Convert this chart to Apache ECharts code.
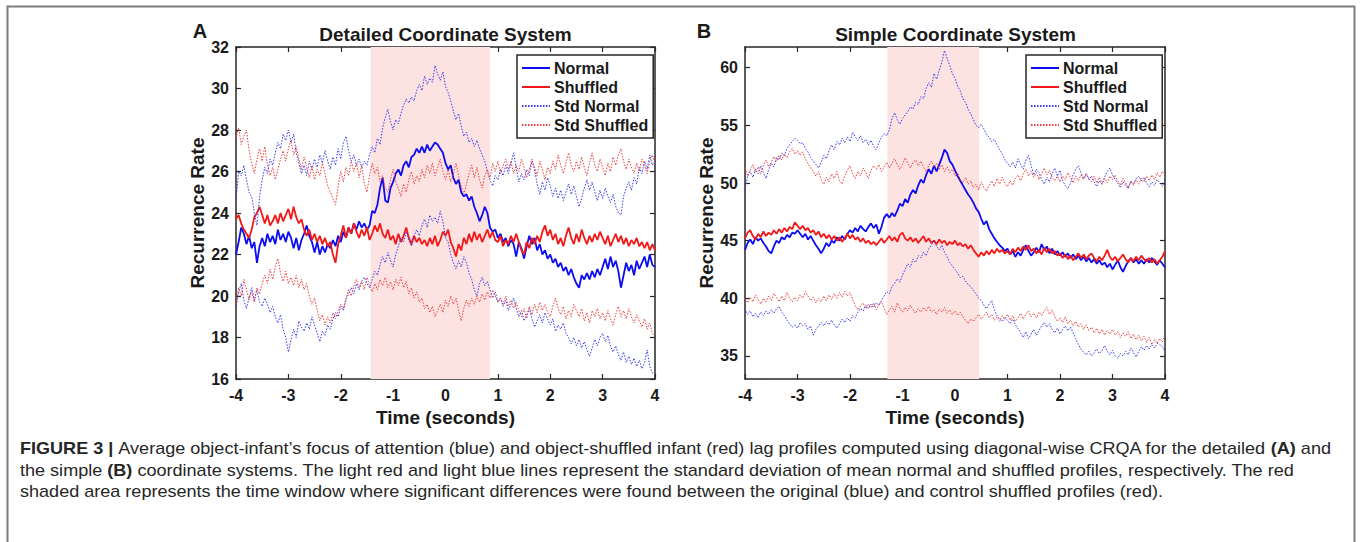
<!DOCTYPE html>
<html><head><meta charset="utf-8">
<script src="https://cdn.jsdelivr.net/npm/echarts@6/dist/echarts.min.js"></script>
<style>html,body{margin:0;padding:0;background:#fff}#c{width:1360px;height:542px}</style>
</head><body><div id="c"></div>
<script>
// ---- data ----
const timeStart = -4, timeStep = 0.05;   // sample grid (seconds)
const xTicks = [-4,-3,-2,-1,0,1,2,3,4];
const yTicksA = [16,18,20,22,24,26,28,30,32];
const yTicksB = [35,40,45,50,55,60];
const shadeA = [-1.43, 0.85];
const shadeB = [-1.29, 0.46];
const legendNames = ['Normal','Shuffled','Std Normal','Std Shuffled'];

const normalA = [22.0,22.6,23.3,23.0,22.5,22.9,22.3,22.6,21.6,22.4,
22.8,22.4,23.0,22.6,22.9,22.5,23.2,22.7,23.0,22.6,
23.1,22.8,22.3,22.8,22.2,22.7,23.0,23.4,22.9,22.6,
22.1,22.6,22.0,22.4,22.1,22.5,22.3,22.7,22.4,22.9,
22.6,23.1,22.8,23.3,23.0,23.5,23.2,23.6,23.3,23.5,
23.2,23.4,24.1,24.0,24.4,25.2,25.7,24.6,24.5,25.2,
25.5,25.9,26.1,25.8,26.3,26.5,26.2,26.7,26.8,27.1,
26.9,27.2,26.9,27.3,27.0,27.2,27.4,27.3,27.1,26.9,
26.4,26.1,26.3,25.7,25.4,25.6,25.0,24.8,24.9,24.6,
24.8,24.3,24.0,23.6,23.9,24.3,24.0,23.3,23.1,23.2,
22.8,23.0,22.6,22.8,22.4,22.7,22.5,21.9,22.6,22.3,
21.8,22.4,22.9,22.5,22.8,22.2,22.5,22.0,22.2,21.8,
22.0,21.6,21.8,21.4,21.6,21.2,21.4,21.0,21.3,20.9,
20.6,20.4,21.0,20.8,21.1,20.8,21.2,20.9,21.3,21.0,
21.4,21.8,21.3,21.9,21.4,21.7,21.2,20.4,21.0,21.6,
21.2,21.5,21.0,21.7,21.3,21.6,21.9,21.4,22.0,21.5,
21.4];
const shuffledA = [23.7,23.9,23.5,23.2,23.0,22.8,23.2,23.8,24.0,24.3,
23.9,23.5,23.9,23.4,23.6,23.9,23.5,24.0,23.6,23.9,
24.2,23.7,24.3,23.8,23.5,23.7,23.2,22.9,23.2,22.7,
23.0,22.6,22.9,22.5,22.8,22.4,22.6,22.0,21.6,22.5,
22.9,23.4,22.8,23.3,23.0,23.5,23.1,22.8,23.2,22.9,
23.3,22.7,23.0,23.4,23.1,23.5,23.0,22.8,23.2,22.7,
22.9,22.5,23.0,22.6,22.9,23.3,22.8,22.5,22.9,22.6,
22.8,22.5,22.7,22.4,22.8,22.5,22.9,22.4,22.7,23.1,
22.9,23.2,22.6,22.3,21.9,22.5,22.2,22.8,22.5,23.0,
22.6,23.1,22.7,23.0,22.6,22.9,23.2,22.8,23.1,22.7,
22.6,22.9,22.4,22.7,22.5,22.9,22.6,23.0,22.6,22.2,
22.0,22.6,22.3,22.8,22.5,22.9,22.6,23.1,23.4,22.9,
23.2,22.7,23.0,22.5,22.8,22.4,22.9,23.3,22.8,22.5,
23.0,22.6,23.2,22.8,22.5,22.9,22.6,23.0,22.7,23.1,
22.8,22.5,22.9,22.4,22.7,23.0,22.6,22.9,22.5,22.8,
22.4,22.7,22.5,22.8,22.4,22.6,22.3,22.6,22.2,22.5,
22.2];
const stdNormalUpA = [24.6,26.0,25.8,26.3,25.6,25.0,24.8,24.0,23.4,24.8,
25.6,26.2,25.9,26.6,26.3,26.9,27.4,27.1,27.8,27.5,
28.0,27.4,27.8,26.9,26.4,25.9,26.3,25.8,26.5,26.1,
26.6,26.2,26.8,26.4,27.0,26.5,26.1,26.7,26.3,27.1,
26.6,27.4,27.7,27.0,26.5,26.8,26.3,26.6,26.2,26.5,
26.3,26.8,27.2,26.9,27.6,27.3,28.1,28.6,29.0,28.4,
28.0,28.5,28.3,28.8,29.2,29.5,29.3,29.6,29.4,29.9,
30.2,29.9,30.6,30.2,30.5,30.3,31.1,30.7,30.4,30.8,
30.1,29.8,29.4,28.9,28.5,28.8,28.2,27.7,27.9,27.4,
27.6,27.2,27.5,27.1,26.8,26.5,26.0,25.6,25.3,25.8,
25.6,26.1,25.8,26.3,25.9,26.4,26.9,26.2,25.5,25.9,
25.6,26.1,25.8,26.5,26.1,25.4,24.9,25.5,25.1,25.7,
25.3,24.8,25.2,24.7,25.1,24.6,25.0,25.4,24.9,25.3,
24.8,24.3,24.7,25.2,25.6,25.1,25.5,25.0,24.6,25.1,
24.7,25.2,24.8,24.5,24.9,24.3,24.0,23.9,24.8,25.2,
25.5,25.1,25.7,25.4,26.2,25.9,26.5,26.1,26.8,26.3,
26.5];
const stdNormalLoA = [19.4,20.2,20.6,19.8,19.4,19.9,20.4,19.8,20.3,19.7,
19.5,19.9,19.6,19.2,19.5,19.0,18.7,19.1,18.4,18.0,
17.3,17.9,18.4,18.0,18.8,18.5,18.3,18.7,18.4,19.0,
18.6,18.2,17.8,18.3,18.1,18.6,18.4,18.9,19.2,19.0,
19.5,19.3,19.8,20.1,20.4,20.1,20.6,20.3,20.7,20.9,
20.6,20.4,20.8,21.2,21.0,21.5,21.9,21.6,22.1,21.7,
21.4,22.0,22.4,22.8,22.6,23.1,22.7,22.4,22.9,23.2,
22.9,23.4,23.7,23.3,23.9,23.6,23.8,23.5,24.1,23.6,
22.8,22.6,22.0,21.6,21.3,21.7,21.4,21.9,21.6,21.1,
20.8,20.3,20.0,20.6,20.9,20.5,20.7,20.3,19.9,20.2,
19.7,19.9,19.5,19.8,19.3,19.6,19.9,19.4,19.0,19.3,
18.8,19.1,19.4,18.9,18.5,18.8,19.1,18.7,19.2,18.9,
18.6,18.9,18.3,18.6,18.4,18.7,18.2,18.0,17.7,18.0,
17.6,17.9,17.5,17.8,17.4,17.1,17.5,17.9,17.6,18.0,
18.2,17.8,18.1,17.6,17.3,17.6,17.2,16.9,17.3,16.8,
17.1,16.7,17.0,16.6,16.9,16.5,16.8,17.4,16.6,16.3,
16.2];
const stdShuffledUpA = [27.6,28.1,27.3,27.7,28.0,27.0,26.4,25.9,26.6,27.1,
26.5,27.2,26.3,25.8,26.2,25.6,26.1,26.6,27.0,26.5,
27.1,27.5,26.8,27.2,26.6,26.1,26.7,26.2,25.7,26.3,
25.6,26.1,25.8,26.4,25.9,25.3,25.0,24.7,24.4,25.3,
26.0,25.5,26.2,25.8,26.5,26.0,26.4,25.7,26.3,25.4,
25.0,25.8,26.4,25.9,26.2,25.5,25.8,25.2,25.0,25.6,
26.1,25.5,25.2,24.8,25.4,25.0,25.6,26.0,25.4,25.8,
25.5,26.1,25.7,26.3,25.9,26.4,25.8,26.2,26.6,26.0,
25.6,26.1,25.5,25.9,26.4,25.8,25.3,24.9,25.4,25.9,
26.3,25.7,26.2,25.6,25.2,25.8,26.1,25.7,26.4,26.0,
26.5,25.9,26.3,26.6,26.1,26.5,25.9,26.3,26.0,26.6,
26.2,25.7,26.1,26.6,26.2,25.8,26.5,26.1,25.6,26.2,
25.9,26.5,26.1,26.8,26.3,25.9,26.4,26.9,26.3,26.0,
26.5,26.1,26.7,26.2,25.8,26.4,26.9,26.3,26.0,26.6,
26.2,25.8,26.4,26.0,26.7,26.3,26.8,27.1,26.5,26.1,
26.6,26.2,25.9,26.4,26.0,26.6,26.3,25.9,26.5,26.8,
26.4];
const stdShuffledLoA = [19.6,20.4,20.0,20.8,20.3,19.8,20.2,19.7,20.4,20.1,
20.6,21.0,20.6,21.3,20.8,21.4,21.8,21.1,20.7,21.2,
20.6,20.9,20.5,21.0,20.4,20.8,20.3,20.6,20.0,19.6,
19.9,19.3,18.8,19.1,18.6,19.0,18.7,19.2,18.9,19.3,
19.6,19.4,19.9,20.3,20.0,20.5,20.8,20.4,20.7,20.3,
20.9,20.5,20.2,20.6,20.3,20.8,20.5,20.9,20.4,20.7,
20.3,20.8,20.5,20.9,20.4,20.7,20.1,20.4,19.9,20.2,
19.7,19.9,19.4,19.6,19.2,19.5,19.0,19.3,19.6,19.2,
19.8,19.5,20.0,19.6,19.9,19.3,18.8,19.4,19.8,19.5,
19.9,19.6,20.0,19.7,20.1,19.8,20.2,19.9,20.3,20.0,
19.7,19.9,19.6,20.0,19.5,19.8,19.4,19.7,19.3,19.0,
19.4,18.9,19.5,19.1,19.6,19.2,19.7,19.3,19.6,19.2,
19.0,19.5,19.9,19.4,19.1,19.5,18.9,19.3,19.0,19.6,
19.3,19.0,19.4,18.8,19.2,18.7,19.3,19.0,19.4,18.9,
19.2,18.8,19.3,18.9,18.6,19.1,19.5,19.0,19.3,18.9,
19.4,19.0,18.7,19.1,18.8,18.5,18.9,18.4,18.7,18.2,
18.1];

const normalB = [44.2,44.8,45.1,44.7,45.3,45.0,45.2,44.8,44.5,44.1,
43.9,44.5,45.0,44.8,45.3,45.1,45.5,45.3,45.7,45.6,
45.9,45.6,45.3,45.6,45.1,45.4,45.0,44.6,44.3,43.9,
44.3,44.8,44.5,45.0,44.8,45.3,45.0,45.4,45.1,45.6,
45.9,45.7,46.1,45.8,46.3,46.0,45.8,46.2,46.5,46.1,
46.4,45.6,46.2,47.0,47.3,47.0,47.4,47.1,47.6,48.2,
48.0,48.6,48.3,49.0,49.4,49.1,49.8,50.3,50.0,50.7,
51.2,50.8,51.5,51.0,51.6,52.2,52.9,52.6,51.9,51.6,
51.1,50.6,50.2,49.8,49.4,49.0,48.7,48.3,47.8,47.5,
46.9,46.4,46.7,46.0,45.6,45.2,44.9,44.6,44.4,44.1,
44.3,43.8,44.1,43.6,44.0,43.7,44.2,44.6,44.1,43.7,
44.0,44.4,44.0,44.7,44.2,44.5,43.9,44.3,43.8,44.1,
43.7,44.0,43.6,43.9,43.5,43.8,43.4,43.7,43.3,43.6,
43.2,43.5,43.1,43.4,43.0,43.3,42.9,43.1,42.7,43.0,
42.5,42.9,43.3,42.7,42.3,42.8,43.2,43.5,43.1,43.4,
43.0,43.3,43.0,43.4,43.1,43.5,43.2,42.9,43.3,43.0,
42.7];
const shuffledB = [45.2,45.7,45.9,45.4,45.1,45.6,45.3,45.8,45.4,45.7,
45.5,45.9,45.6,46.0,45.7,46.1,45.8,46.2,46.0,46.6,
46.3,46.0,46.3,45.9,46.1,45.7,45.9,45.5,45.8,45.3,
45.6,45.2,45.5,45.1,45.4,45.0,45.3,44.9,45.2,45.6,
45.2,45.5,45.1,45.3,44.9,45.2,44.8,45.0,44.7,44.9,
44.6,44.9,45.2,44.8,45.1,45.4,45.0,45.3,44.9,45.5,
45.7,45.2,45.0,45.3,44.9,45.2,44.8,45.1,45.4,44.9,
45.2,44.8,45.0,44.7,45.1,44.8,45.0,44.6,44.9,44.7,
45.0,44.6,44.8,44.5,44.7,44.3,44.6,44.2,43.9,43.6,
44.0,43.7,44.1,43.8,44.2,43.9,44.3,44.0,44.2,43.9,
44.1,43.8,44.3,44.0,44.4,44.1,44.5,44.2,44.6,44.1,
44.3,43.9,44.2,43.8,44.4,44.0,44.3,43.9,44.1,43.7,
43.9,43.5,43.8,43.4,43.7,43.3,43.6,43.9,43.5,43.8,
43.4,43.7,43.9,43.5,43.2,43.6,43.3,43.7,44.2,43.6,
43.3,43.6,43.2,43.5,43.8,43.4,43.1,43.5,43.2,43.6,
43.3,43.7,43.4,43.2,43.5,43.1,43.4,43.0,43.3,43.6,
44.1];
const stdNormalUpB = [49.4,50.6,51.0,50.5,51.2,50.8,51.5,50.9,50.4,51.1,
51.7,51.4,52.2,52.0,52.6,52.4,53.0,53.3,53.6,53.9,
53.7,53.4,53.5,53.0,52.7,52.2,51.9,51.6,51.3,51.8,
52.4,52.1,52.8,53.3,52.9,53.6,53.3,53.9,53.5,54.0,
53.6,54.4,54.0,53.7,54.1,53.5,53.8,53.3,53.7,53.2,
52.9,53.5,54.0,54.3,54.1,54.6,55.6,56.1,55.5,55.1,
55.6,55.9,56.2,56.6,56.4,57.0,56.8,57.5,57.3,58.2,
58.7,58.3,59.5,59.0,59.8,60.5,61.5,60.8,60.2,59.5,
59.1,58.4,58.0,57.3,57.0,56.4,56.0,55.5,55.0,54.8,
55.1,54.7,54.2,54.0,53.6,53.8,53.3,52.9,52.5,52.0,
51.7,51.4,51.8,51.3,52.1,51.6,51.2,52.0,52.4,51.5,
50.7,51.2,50.9,50.3,49.9,50.5,50.1,50.8,51.3,50.6,
51.1,50.2,49.8,49.5,50.0,50.7,51.2,51.5,50.9,50.4,
50.8,50.3,50.6,50.1,49.7,50.2,49.9,50.5,51.0,51.3,
50.7,50.3,50.0,49.6,50.1,49.8,49.5,50.2,49.9,50.4,
50.6,50.2,50.5,50.0,49.7,50.1,49.8,50.3,50.0,49.7,
50.2];
const stdNormalLoB = [39.1,38.6,38.9,38.4,38.7,38.3,38.8,38.5,38.9,38.6,
39.0,38.7,39.1,39.3,38.8,38.5,38.1,37.8,37.5,37.7,
37.4,37.9,37.6,37.8,37.3,37.6,36.8,37.3,37.6,37.9,
37.6,38.0,37.7,38.1,37.7,37.4,37.8,38.2,37.9,38.3,
38.0,38.5,38.3,38.8,39.1,38.9,39.4,39.1,39.5,39.2,
39.6,39.4,39.8,40.2,40.6,40.4,41.0,41.3,41.7,41.4,
42.0,42.5,43.0,42.7,43.4,43.1,43.7,43.5,44.0,43.7,
44.3,44.6,45.0,44.5,44.2,44.6,44.0,43.6,43.1,42.8,
42.5,42.2,41.8,41.9,41.5,41.2,41.0,40.7,40.4,40.0,
39.8,39.4,39.1,39.5,39.8,39.0,38.5,38.2,38.0,38.3,
38.1,37.8,38.2,37.7,37.4,37.0,36.6,37.1,36.5,36.9,
37.3,36.8,37.2,37.6,37.9,37.5,37.8,37.3,37.0,37.4,
36.9,37.3,37.6,37.2,37.5,37.0,36.5,36.0,35.6,35.3,
35.1,35.4,35.0,35.3,35.6,35.2,35.5,35.9,35.4,35.1,
35.5,35.0,34.8,35.2,35.0,35.4,35.1,35.7,35.3,34.9,
35.4,35.8,35.5,35.9,35.6,36.0,35.7,36.1,36.0,35.8,
35.4];
const stdShuffledUpB = [51.3,50.6,51.1,51.6,50.9,51.4,50.8,51.5,52.0,51.4,
51.8,52.3,51.9,52.4,52.0,52.5,52.2,52.7,53.0,52.5,
52.8,52.4,52.7,52.1,51.7,51.3,51.0,50.6,51.0,50.3,
49.9,50.5,50.1,50.8,50.4,51.0,50.2,49.9,50.6,51.1,
51.5,50.8,50.4,51.0,50.6,51.3,50.9,50.4,51.1,51.5,
51.2,51.6,51.0,51.4,51.8,51.3,51.7,52.1,51.6,51.2,
51.6,52.2,51.7,51.3,51.8,52.0,51.5,51.9,51.4,51.0,
51.5,51.9,51.4,51.7,51.2,51.6,51.0,51.4,50.9,51.2,
50.6,50.9,50.3,50.0,50.5,49.9,50.2,49.6,49.9,49.4,
50.1,49.6,49.3,49.8,50.2,49.7,50.4,49.9,50.5,50.0,
49.7,50.2,49.8,50.4,50.7,50.2,50.8,51.2,50.6,51.0,
50.5,50.9,50.3,50.8,51.3,50.7,51.1,50.5,50.2,50.6,
50.1,50.6,50.3,50.9,50.5,50.0,50.6,50.2,50.7,50.3,
50.8,50.4,50.1,50.6,50.0,50.5,49.9,50.4,50.0,50.6,
50.3,50.7,50.2,49.8,50.4,50.0,49.6,50.1,49.8,50.3,
49.9,50.4,50.1,50.6,50.2,50.7,50.3,50.9,50.5,51.0,
50.7];
const stdShuffledLoB = [40.0,39.6,40.1,39.7,40.3,39.9,39.5,40.0,39.7,40.2,
39.8,40.4,40.1,39.7,40.2,39.8,40.5,40.0,39.7,40.1,
39.8,40.3,40.0,40.6,40.2,39.8,40.1,39.6,40.0,39.7,
40.2,39.8,40.3,39.9,40.4,40.0,40.5,40.1,40.6,40.2,
40.5,39.9,39.4,39.0,39.3,39.6,39.1,39.5,39.2,39.6,
39.0,39.4,39.7,39.2,38.6,39.0,39.3,38.8,39.6,39.1,
38.8,39.2,38.9,39.4,39.0,38.7,39.1,38.8,39.2,38.9,
39.3,38.8,39.0,38.6,39.1,38.8,39.2,38.7,39.0,38.6,
38.9,38.5,38.8,38.4,38.1,37.8,38.2,38.0,38.3,38.6,
38.2,38.5,38.8,38.3,38.6,38.1,38.4,38.0,38.5,38.2,
38.6,38.1,38.5,38.0,38.3,38.7,38.2,38.6,38.9,38.4,
38.7,38.3,38.8,38.5,38.9,39.2,38.6,39.0,38.4,38.0,
38.3,37.9,38.4,37.8,38.1,37.6,38.0,37.5,37.8,37.3,
37.7,37.2,37.5,37.0,37.4,36.9,37.3,36.8,37.2,36.9,
37.3,36.8,37.1,36.6,37.0,36.7,37.1,36.5,36.9,36.4,
36.8,36.3,36.7,36.2,36.6,36.0,36.4,36.1,36.5,36.2,
36.9];

// ---- styling ----
const FONT = '"Liberation Sans", Arial, Helvetica, sans-serif';
const INK = '#1a1a1a';
const C_BLUE = '#0c0cf2', C_RED = '#f21818', C_BLUE_D = '#3a3af0', C_RED_D = '#ee3c3c';
const SHADE = '#fde2e2';

function pts(arr){ return arr.map((v,i)=>[+(timeStart + i*timeStep).toFixed(2), v]); }
function mkLine(name, arr, gi, color, width, type, z){
  return {name, type:'line', xAxisIndex:gi*2, yAxisIndex:gi*2, data:pts(arr), showSymbol:false, symbol:'none',
    lineStyle:{color, width, type}, itemStyle:{color}, z, silent:true, animation:false};
}
function shade(gi, rng){
  return {type:'line', xAxisIndex:gi*2, yAxisIndex:gi*2, data:[], z:0, silent:true,
    markArea:{silent:true, itemStyle:{color:SHADE, opacity:1}, data:[[{xAxis:rng[0]},{xAxis:rng[1]}]]}};
}
const axLine = {show:true, onZero:false, lineStyle:{color:'#262626', width:1.5}};
const axTick = {show:true, inside:true, length:5, lineStyle:{color:'#262626', width:1.2}};
const lblStyle = {color:INK, fontSize:16, fontWeight:'bold', fontFamily:FONT};
const nameStyle = {color:INK, fontSize:19, fontWeight:'bold', fontFamily:FONT};

function xAxes(gi){
  return [
    {type:'value', gridIndex:gi, min:xTicks[0], max:xTicks[xTicks.length-1], interval:1, position:'bottom',
     axisLine:axLine, axisTick:axTick, axisLabel:Object.assign({margin:8}, lblStyle), splitLine:{show:false},
     name:'Time (seconds)', nameLocation:'middle', nameGap:21, nameTextStyle:nameStyle},
    {type:'value', gridIndex:gi, min:xTicks[0], max:xTicks[xTicks.length-1], interval:1, position:'top',
     axisLine:axLine, axisTick:axTick, axisLabel:{show:false}, splitLine:{show:false}}
  ];
}
const yA = {min:yTicksA[0], max:yTicksA[yTicksA.length-1], interval:2};
const yB = {min:33, max:61.8, axisLabel:{customValues:yTicksB}, axisTick:{customValues:yTicksB}};
function yAxes(gi, cfg){
  const lab = Object.assign({margin:7}, lblStyle, cfg.axisLabel||{});
  const tick = Object.assign({}, axTick, cfg.axisTick||{});
  const base = {type:'value', gridIndex:gi, min:cfg.min, max:cfg.max, splitLine:{show:false}, axisLine:axLine};
  if (cfg.interval) base.interval = cfg.interval;
  return [
    Object.assign({}, base, {position:'left', axisTick:tick, axisLabel:lab,
      name:'Recurrence Rate', nameLocation:'middle', nameGap:28, nameTextStyle:nameStyle}),
    Object.assign({}, base, {position:'right', axisTick:tick, axisLabel:Object.assign({}, lab, {show:false})})
  ];
}
function legendAt(left){
  return {data:legendNames, orient:'vertical', left, top:55, itemWidth:28, itemHeight:14, itemGap:3,
    padding:[5,5,5,4], backgroundColor:'#fff', borderColor:'#262626', borderWidth:1.5, borderRadius:0,
    selectedMode:false, itemStyle:{opacity:0, borderWidth:0},
    textStyle:{color:INK, fontSize:16, fontWeight:'bold', fontFamily:FONT, lineHeight:14, padding:[0,0,0,-1]}};
}
function seriesFor(gi, n, s, snU, snL, ssU, ssL, rng){
  return [
    shade(gi, rng),
    mkLine('Normal', n, gi, C_BLUE, 1.8, 'solid', 5),
    mkLine('Shuffled', s, gi, C_RED, 1.8, 'solid', 5),
    mkLine('Std Normal', snU, gi, C_BLUE_D, 1, [1.5,1.5], 6),
    mkLine('Std Normal', snL, gi, C_BLUE_D, 1, [1.5,1.5], 6),
    mkLine('Std Shuffled', ssU, gi, C_RED_D, 1, [1.5,1.5], 7),
    mkLine('Std Shuffled', ssL, gi, C_RED_D, 1, [1.5,1.5], 7)
  ];
}

// caption: segments measured with an SVG text node so placement matches the SVG renderer
const cap1 = [['b','FIGURE 3 | '],['n','Average object-infant\u2019s focus of attention (blue) and object-shuffled infant (red) lag profiles computed using diagonal-wise CRQA for the detailed '],['b','(A) '],['n','and']];
const cap2 = [['n','the simple '],['b','(B) '],['n','coordinate systems. The light red and light blue lines represent the standard deviation of mean normal and shuffled profiles, respectively. The red']];
const cap3 = [['n','shaded area represents the time window where significant differences were found between the original (blue) and control shuffled profiles (red).']];
const CAP_PX = 16;
const SVGNS = 'http://www.w3.org/2000/svg';
const msvg = document.createElementNS(SVGNS, 'svg');
msvg.setAttribute('width','1'); msvg.setAttribute('height','1');
msvg.style.position='absolute'; msvg.style.left='-9999px'; msvg.style.top='0';
document.body.appendChild(msvg);
function tw(font, t){
  const el = document.createElementNS(SVGNS, 'text');
  el.setAttribute('xml:space','preserve');
  el.setAttribute('style','font:'+font+';white-space:pre');
  el.textContent = t; msvg.appendChild(el);
  const w = el.getComputedTextLength(); msvg.removeChild(el); return w;
}
function segFont(k){ return (k==='b'?'bold ':'normal ')+CAP_PX+'px '+FONT; }
function segW(segs){ return segs.reduce((w,[k,t])=>w+tw(segFont(k),t),0); }
const capScale = 1311 / segW(cap1);
function capLine(segs, y){
  const out = []; let x = 0;
  segs.forEach(([k,t])=>{
    out.push({type:'text', x, y, style:{text:t, font:segFont(k), fill:'#262626', align:'left', verticalAlign:'middle'}});
    x += tw(segFont(k), t);
  });
  return out;
}

const chart = echarts.init(document.getElementById('c'), null, {renderer:'svg'});
chart.setOption({
  animation:false,
  backgroundColor:'#fff',
  grid:[{left:236, top:47, width:419, height:332},{left:745, top:47, width:420, height:332}],
  xAxis:[...xAxes(0), ...xAxes(1)],
  yAxis:[...yAxes(0, yA), ...yAxes(1, yB)],
  legend:[legendAt(517), legendAt(1026)],
  series:[...seriesFor(0, normalA, shuffledA, stdNormalUpA, stdNormalLoA, stdShuffledUpA, stdShuffledLoA, shadeA),
          ...seriesFor(1, normalB, shuffledB, stdNormalUpB, stdNormalLoB, stdShuffledUpB, stdShuffledLoB, shadeB)],
  graphic:[
    {type:'rect', shape:{x:7.5, y:6.5, width:1347, height:620}, style:{fill:'none', stroke:'#7d7d7d', lineWidth:2}, silent:true, z:-10},
    {type:'text', x:200, y:31, style:{text:'A', font:'bold 20px '+FONT, fill:INK, align:'center', verticalAlign:'middle'}},
    {type:'text', x:704, y:31, style:{text:'B', font:'bold 20px '+FONT, fill:INK, align:'center', verticalAlign:'middle'}},
    {type:'text', x:445.5, y:34, style:{text:'Detailed Coordinate System', font:'bold 19px '+FONT, fill:INK, align:'center', verticalAlign:'middle'}},
    {type:'text', x:955.5, y:34, style:{text:'Simple Coordinate System', font:'bold 19px '+FONT, fill:INK, align:'center', verticalAlign:'middle'}},
    {type:'group', x:20, y:0, scaleX:capScale, children:[...capLine(cap1, 449), ...capLine(cap2, 470.5), ...capLine(cap3, 492)]}
  ]
});
</script></body></html>
